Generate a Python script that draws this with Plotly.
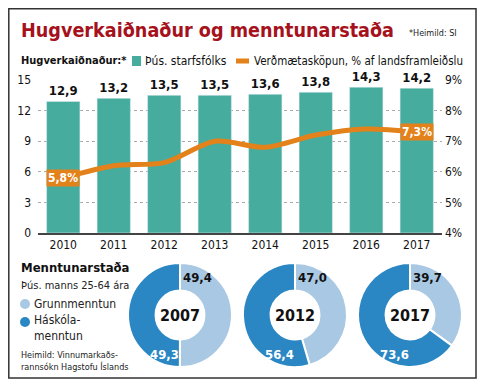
import plotly.graph_objects as go

W, H = 485, 390
years = ["2010", "2011", "2012", "2013", "2014", "2015", "2016", "2017"]
workers = [12.9, 13.2, 13.5, 13.5, 13.6, 13.8, 14.3, 14.2]
value_share = [5.8, 6.2, 6.3, 7.0, 6.8, 7.2, 7.4, 7.3]
left_ticks = [0, 3, 6, 9, 12, 15]
right_ticks = [4, 5, 6, 7, 8, 9]
right_tick_labels = ["4%", "5%", "6%", "7%", "8%", "9%"]

pie_years = ["2007", "2012", "2017"]
basic_edu = [49.4, 47.0, 39.7]
higher_edu = [49.3, 56.4, 73.6]

TEAL = "#46ad9e"
ORANGE = "#e3811b"
LIGHT = "#a9c8e3"
DARK = "#2a87c3"
FONT = "DejaVu Sans Condensed, Liberation Sans Narrow, sans-serif"
FONTB = "DejaVu Sans Condensed, Liberation Sans Narrow, sans-serif"

OFF = 8  # page body margin


def px(x):
    return (x - OFF) / W


def py(y):
    return 1 - (y - OFF) / H


def fmt(v):
    return f"{v:.1f}".replace(".", ",")


fig = go.Figure()


def note(x, y, text, size, color="#111", xanchor="center", bold=False, **kw):
    fig.add_annotation(x=px(x), y=py(y), xref="paper", yref="paper",
                       xanchor=xanchor, yanchor="middle", showarrow=False,
                       text=f"<b>{text}</b>" if bold else text,
                       font=dict(family=FONT, size=size, color=color), **kw)


fig.add_trace(go.Bar(
    x=years, y=workers, marker_color=TEAL, width=0.66,
    text=[fmt(v) for v in workers], texttemplate="<b>%{text}</b>", textposition="outside",
    textfont=dict(family=FONTB, size=13, color="#111"),
    cliponaxis=False, yaxis="y", showlegend=False,
))
fig.add_trace(go.Scatter(
    x=years, y=value_share, mode="lines", yaxis="y2",
    line=dict(color=ORANGE, width=5, shape="spline", smoothing=0.8),
    showlegend=False,
))

# pies
centers = [180, 295, 410]
CY = 315
R = 52
for i, yr in enumerate(pie_years):
    cx = centers[i]
    fig.add_trace(go.Pie(
        values=[basic_edu[i], higher_edu[i]], labels=["Grunnmenntun", "Háskólamenntun"],
        marker=dict(colors=[LIGHT, DARK], line=dict(color="white", width=2)),
        hole=0.47, sort=False, direction="clockwise", rotation=0,
        textinfo="none", hoverinfo="skip", showlegend=False,
        domain=dict(x=[px(cx - R), px(cx + R)], y=[py(CY + R), py(CY - R)]),
    ))
    note(cx, CY, yr, 16, bold=True)
    note(cx + 17, 277, fmt(basic_edu[i]), 13, bold=True)
    note(cx - 16, 354, fmt(higher_edu[i]), 13, color="white", bold=True)

# line labels
for idx in [0, len(years) - 1]:
    fig.add_annotation(x=idx, y=value_share[idx], xref="x", yref="y2",
                       xanchor="center", yanchor="middle",
                       text=f"<b>{fmt(value_share[idx])}%</b>", showarrow=False,
                       bgcolor=ORANGE, borderpad=1,
                       font=dict(family=FONTB, size=12, color="white"))

# title and header
note(19, 30, "Hugverkaiðnaður og menntunarstaða", 19.6, color="#a5121c", xanchor="left", bold=True)
note(459, 33, "*Heimild: SI", 9, color="#222", xanchor="right")
note(19, 61, "Hugverkaiðnaður:*", 11, xanchor="left", bold=True)
fig.add_shape(type="rect", xref="paper", yref="paper", x0=px(132), x1=px(141),
              y0=py(66), y1=py(56), fillcolor=TEAL, line_width=0)
note(143, 61, "Þús. starfsfólks", 12, xanchor="left")
fig.add_shape(type="line", xref="paper", yref="paper", x0=px(236), x1=px(249),
              y0=py(61), y1=py(61), line=dict(color=ORANGE, width=5))
note(252, 61, "Verðmætasköpun, % af landsframleiðslu", 11.5, xanchor="left")

# bottom left texts
note(19, 267, "Menntunarstaða", 13, xanchor="left", bold=True)
note(19, 285, "Þús. manns 25-64 ára", 11, color="#222", xanchor="left")
fig.add_shape(type="circle", xref="paper", yref="paper", x0=px(20), x1=px(30),
              y0=py(309), y1=py(299), fillcolor=LIGHT, line_width=0)
note(32, 304, "Grunnmenntun", 12, color="#222", xanchor="left")
fig.add_shape(type="circle", xref="paper", yref="paper", x0=px(20), x1=px(30),
              y0=py(327), y1=py(317), fillcolor=DARK, line_width=0)
note(32, 328, "Háskóla-<br>menntun", 12, color="#222", xanchor="left", align="left")
note(19, 361, "Heimild: Vinnumarkaðs-<br>rannsókn Hagstofu Íslands", 9, color="#222",
     xanchor="left", align="left")

# frame
fig.add_shape(type="rect", xref="paper", yref="paper", x0=px(8.8), x1=px(476),
              y0=py(378), y1=py(8.8), line=dict(color="#333", width=1.5), layer="above")

fig.update_layout(
    width=W, height=H, margin=dict(l=0, r=0, t=0, b=0, autoexpand=False),
    paper_bgcolor="white", plot_bgcolor="white", bargap=0.34,
    xaxis=dict(type="category", range=[-0.5, len(years) - 0.5], domain=[px(38), px(442)],
               showline=True, linecolor="#444", linewidth=1.5, ticks="",
               tickfont=dict(family=FONT, size=12, color="#111"), showgrid=False),
    yaxis=dict(domain=[py(233), py(80)], range=[0, 15], tickvals=left_ticks,
               showgrid=True, gridcolor="#aaa", griddash="dot", gridwidth=1, zeroline=False,
               ticks="", ticklabelstandoff=6,
               tickfont=dict(family=FONT, size=12, color="#111")),
    yaxis2=dict(domain=[py(233), py(80)], range=[4, 9], overlaying="y", side="right",
                tickvals=right_ticks, ticktext=right_tick_labels, showgrid=False, zeroline=False,
                ticks="", ticklabelstandoff=2,
                tickfont=dict(family=FONT, size=12, color="#111")),
)

fig.write_html("out.html")
